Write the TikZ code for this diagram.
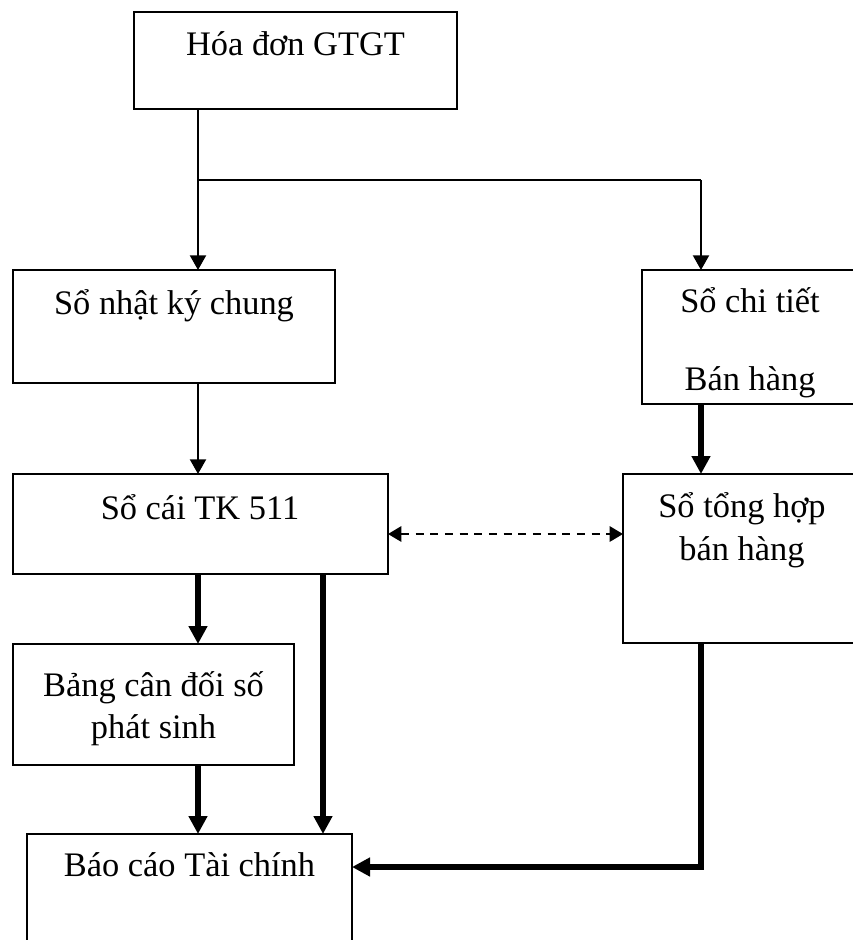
\documentclass[tikz,border=0pt]{standalone}
\usepackage{fontspec}
\setmainfont{Liberation Serif}
\usetikzlibrary{arrows.meta}
\begin{document}
\begin{tikzpicture}[x=0.75pt,y=-0.75pt,
  box/.style={draw, line width=1.5pt, rectangle, inner sep=0pt, outer sep=0pt, anchor=north west},
  lbl/.style={anchor=base, inner sep=0pt, font=\fontsize{25.8}{30}\selectfont},
  thinflow/.style={line width=1.5pt, -{Triangle[length=11pt,width=12pt]}},
  thickflow/.style={line width=4.5pt, -{Triangle[length=13.5pt,width=13.5pt]}},
  thinlink/.style={line width=1.5pt},
  dualflow/.style={line width=1.5pt, dash pattern=on 6pt off 5pt,
    {Triangle[length=10pt,width=11.5pt]}-{Triangle[length=10pt,width=11.5pt]}}]
\useasboundingbox (0,0) rectangle (853,940);
\clip (0,0) rectangle (853,940);

% boxes
\node[box, minimum width=323*0.75pt, minimum height=97*0.75pt]  (hd)   at (134,12)  {};
\node[box, minimum width=322*0.75pt, minimum height=113*0.75pt] (nkc)  at (13,270)  {};
\node[box, minimum width=216*0.75pt, minimum height=134*0.75pt] (ctbh) at (642,270) {};
\node[box, minimum width=375*0.75pt, minimum height=100*0.75pt] (tk)   at (13,474)  {};
\node[box, minimum width=238*0.75pt, minimum height=169*0.75pt] (thbh) at (623,474) {};
\node[box, minimum width=281*0.75pt, minimum height=121*0.75pt] (bcd)  at (13,644)  {};
\node[box, minimum width=325*0.75pt, minimum height=126*0.75pt] (bctc) at (27,834)  {};

% labels
\node[lbl] (thd)   at (295.5,55) {Hóa đơn GTGT};
\node[lbl] (tnkc)  at (174,314)  {Sổ nhật ký chung};
\node[lbl] (tct1)  at (750,312)  {Sổ chi tiết};
\node[lbl] (tct2)  at (750,390)  {Bán hàng};
\node[lbl] (ttk)   at (200,519)  {Sổ cái TK 511};
\node[lbl] (tth1)  at (742,517)  {Sổ tổng hợp};
\node[lbl] (tth2)  at (742,560)  {bán hàng};
\node[lbl] (tbcd1) at (153.5,696) {Bảng cân đối số};
\node[lbl] (tbcd2) at (153.5,738) {phát sinh};
\node[lbl] (tbctc) at (189.5,876) {Báo cáo Tài chính};

% guide coordinates for the connector columns and rows
\coordinate (colL) at (198,0);
\coordinate (colM) at (323,0);
\coordinate (colR) at (701,0);
\coordinate (split) at (198,180);
\coordinate (rowD) at (0,534);
\coordinate (rowB) at (0,867);

% connectors
\draw[thinflow] (hd.south -| colL) -- (nkc.north -| colL);
\draw[thinlink] (split) -- (split -| colR);
\draw[thinflow] (split -| colR) -- (ctbh.north -| colR);
\draw[thinflow] (nkc.south -| colL) -- (tk.north -| colL);
\draw[thickflow] (ctbh.south -| colR) -- (thbh.north -| colR);
\draw[dualflow] (tk.east |- rowD) -- (thbh.west |- rowD);
\draw[thickflow] (tk.south -| colL) -- (bcd.north -| colL);
\draw[thickflow] (bcd.south -| colL) -- (bctc.north -| colL);
\draw[thickflow] (tk.south -| colM) -- (bctc.north -| colM);
\draw[thickflow] (thbh.south -| colR) |- (bctc.east |- rowB);
\end{tikzpicture}
\end{document}
